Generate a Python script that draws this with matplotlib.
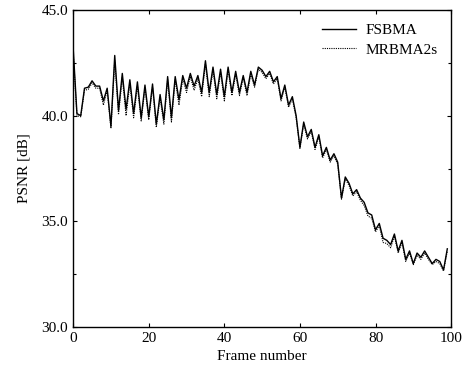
import numpy as np
import matplotlib
matplotlib.use('Agg')
import matplotlib.pyplot as plt
from matplotlib.ticker import MultipleLocator, FormatStrFormatter

plt.rcParams['font.family'] = ['Liberation Serif', 'DejaVu Serif']

frames = list(range(100))

fsbma = [
    43.2, 40.1, 40.0, 41.3, 41.35, 41.65, 41.4, 41.4, 40.7, 41.3,
    39.5, 42.85, 40.25, 42.0, 40.3, 41.7, 40.1, 41.6, 39.9, 41.45,
    39.95, 41.5, 39.6, 41.0, 39.8, 41.85, 39.9, 41.85, 40.75, 41.9,
    41.3, 42.0, 41.4, 41.9, 41.1, 42.6, 41.1, 42.3, 41.0, 42.2,
    40.9, 42.3, 41.1, 42.1, 41.1, 41.9, 41.1, 42.1, 41.45, 42.3,
    42.15, 41.85, 42.1, 41.6, 41.85, 40.8, 41.45, 40.5, 40.9, 40.0,
    38.5, 39.7, 39.0, 39.35, 38.5, 39.1, 38.1, 38.5, 37.9, 38.2,
    37.8, 36.1, 37.1, 36.8, 36.3, 36.5, 36.1, 35.9, 35.4, 35.3,
    34.6, 34.9, 34.2, 34.1, 33.9, 34.4, 33.6, 34.1, 33.2, 33.6,
    33.0, 33.5, 33.3, 33.6, 33.3, 33.0, 33.2, 33.1, 32.7, 33.7,
]

mrbma2s = [
    43.0, 40.0, 39.95, 41.2, 41.25, 41.55, 41.3, 41.3, 40.5, 41.2,
    39.4, 42.6, 40.05, 41.8, 40.0, 41.5, 39.9, 41.4, 39.75, 41.3,
    39.8, 41.35, 39.45, 40.85, 39.6, 41.7, 39.7, 41.7, 40.5, 41.75,
    41.1, 41.85, 41.2, 41.75, 40.9, 42.45, 40.9, 42.15, 40.8, 42.05,
    40.7, 42.15, 40.95, 41.95, 40.95, 41.8, 40.95, 41.95, 41.35, 42.2,
    42.05, 41.75, 42.0, 41.5, 41.75, 40.7, 41.35, 40.4, 40.8, 39.9,
    38.45, 39.6, 38.9, 39.25, 38.4, 39.0, 38.0, 38.4, 37.8, 38.1,
    37.7, 36.05, 37.0, 36.7, 36.2, 36.4, 36.0, 35.75, 35.25, 35.15,
    34.5, 34.8, 34.0, 33.95, 33.75, 34.3, 33.5, 34.0, 33.1, 33.5,
    32.95, 33.4, 33.2, 33.5, 33.2, 32.95, 33.1, 33.0, 32.65, 33.6,
]

fig = plt.figure(figsize=(4.66, 3.72), dpi=100)
ax = fig.add_axes([0.157, 0.121, 0.811, 0.852])

ax.plot(frames, fsbma, color='black', lw=1.0, label='FSBMA')
ax.plot(frames, mrbma2s, color='black', lw=0.8, ls=(0, (1, 1)), label='MRBMA2s')

ax.set_xlim(0, 100)
ax.set_ylim(30, 45)
ax.xaxis.set_major_locator(MultipleLocator(20))
ax.yaxis.set_major_locator(MultipleLocator(5))
ax.yaxis.set_minor_locator(MultipleLocator(2.5))
ax.yaxis.set_major_formatter(FormatStrFormatter('%.1f'))
ax.tick_params(which='both', direction='in', top=True, right=True, labelsize=11)
ax.tick_params(which='major', length=3, width=0.8)
ax.tick_params(which='minor', length=2, width=0.8)
for s in ax.spines.values():
    s.set_linewidth(1.0)

ax.set_xlabel('Frame number', fontsize=11, labelpad=4)
ax.set_ylabel('PSNR [dB]', fontsize=11, labelpad=8)

ax.legend(loc='upper right', frameon=False, fontsize=11, handlelength=2.2,
          handletextpad=0.6, borderaxespad=0.5, labelspacing=0.35)

fig.savefig('out.png', dpi=100)
